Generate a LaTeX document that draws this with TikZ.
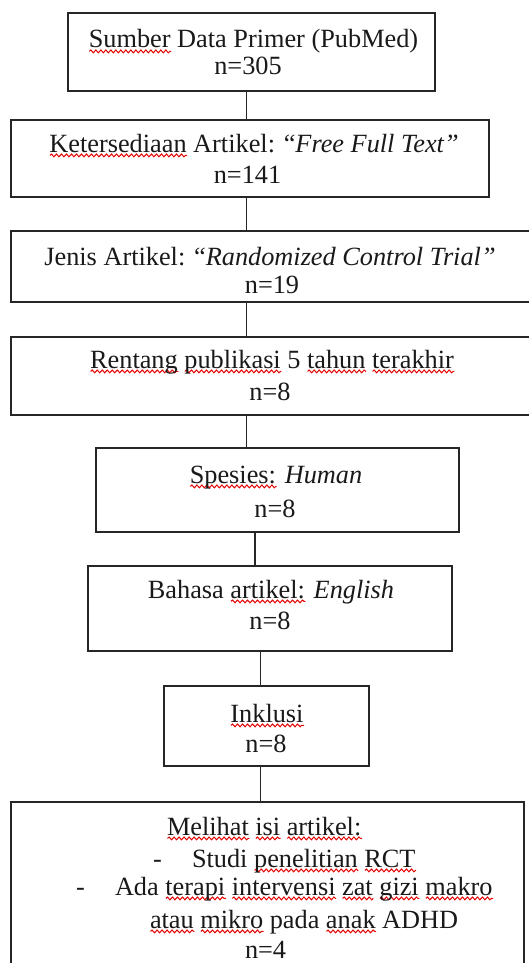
\documentclass[tikz,border=0pt]{standalone}
\usepackage{fontspec}
\setmainfont{Liberation Serif}
\usetikzlibrary{decorations.pathmorphing}
\newlength\sqlen
\newcommand\sq[1]{\settowidth\sqlen{#1}\rlap{\tikz[baseline=0pt,x=1pt,y=1pt]{\draw[red!90!black, line width=1pt, decorate, decoration={snake, amplitude=1.4pt, segment length=5pt}] (0,-3.4) -- (\sqlen,-3.4);}}#1}
\tikzset{
  box/.style={draw=black!85, line width=1.4pt, inner sep=0pt, outer sep=0pt, fill=none},
  txt/.style={inner sep=0pt, outer sep=0pt, font=\fontsize{26.3}{30}\selectfont, text=black!90},
  link/.style={draw=black!85, line width=1.4pt}
}
\begin{document}
\begin{tikzpicture}[x=1pt,y=-1pt]
\useasboundingbox (0,0) rectangle (529,963);
\clip (0,0) rectangle (529,963);
% boxes
\node[box, minimum width=367pt, minimum height=78pt] (b1) at (251.5,52) {};
\node[box, minimum width=478pt, minimum height=77pt] (b2) at (250,158.5) {};
\node[box, minimum width=534pt, minimum height=71pt] (b3) at (278,266.5) {};
\node[box, minimum width=534pt, minimum height=78pt] (b4) at (278,376) {};
\node[box, minimum width=363pt, minimum height=84pt] (b5) at (277.5,490) {};
\node[box, minimum width=364pt, minimum height=85pt] (b6) at (270,608.5) {};
\node[box, minimum width=205pt, minimum height=80pt] (b7) at (266.5,726) {};
\node[box, minimum width=513pt, minimum height=188pt] (b8) at (267.5,896) {};
% connector columns
\coordinate (c1) at (246.5,0);
\coordinate (c2) at (255,0);
\coordinate (c3) at (260.5,0);
\draw[link] (b1.south -| c1) -- (b2.north -| c1);
\draw[link] (b2.south -| c1) -- (b3.north -| c1);
\draw[link] (b3.south -| c1) -- (b4.north -| c1);
\draw[link] (b4.south -| c1) -- (b5.north -| c1);
\draw[link] (b5.south -| c2) -- (b6.north -| c2);
\draw[link] (b6.south -| c3) -- (b7.north -| c3);
\draw[link] (b7.south -| c3) -- (b8.north -| c3);
% texts
\node[txt, anchor=base] (t1a) at (253.5,48) {\sq{Sumber} Data Primer (PubMed)};
\node[txt, anchor=base] (t1b) at (248,75) {n=305};
\node[txt, anchor=base] (t2a) at (254,152) {\sq{Ketersediaan} Artikel: “\textit{Free Full Text”}};
\node[txt, anchor=base] (t2b) at (247.5,183) {n=141};
\node[txt, anchor=base] (t3a) at (270,265) {Jenis Artikel: “\textit{Randomized Control Trial”}};
\node[txt, anchor=base] (t3b) at (272,293) {n=19};
\node[txt, anchor=base] (t4a) at (272,368) {\sq{Rentang} \sq{publikasi} 5 \sq{tahun} \sq{terakhir}};
\node[txt, anchor=base] (t4b) at (270,400) {n=8};
\node[txt, anchor=base] (t5a) at (276,483) {\sq{Spesies:} \textit{Human}};
\node[txt, anchor=base] (t5b) at (275,517) {n=8};
\node[txt, anchor=base] (t6a) at (271,598) {Bahasa \sq{artikel:} \textit{English}};
\node[txt, anchor=base] (t6b) at (270,629) {n=8};
\node[txt, anchor=base] (t7a) at (267,722) {\sq{Inklusi}};
\node[txt, anchor=base] (t7b) at (266,752) {n=8};
\node[txt, anchor=base west] (t8a) at (167,835) {\sq{Melihat} \sq{isi} \sq{artikel:}};
\node[txt, anchor=base west] (t8b) at (153,867) {-};
\node[txt, anchor=base west] (t8c) at (192,867) {Studi \sq{penelitian} \sq{RCT}};
\node[txt, anchor=base west] (t8d) at (76,895) {-};
\node[txt, anchor=base west] (t8e) at (115,895) {Ada \sq{terapi} \sq{intervensi} \sq{zat} \sq{gizi} \sq{makro}};
\node[txt, anchor=base west] (t8f) at (150,928) {\sq{atau} \sq{mikro} pada \sq{anak} ADHD};
\node[txt, anchor=base west] (t8g) at (245,958) {n=4};
\end{tikzpicture}
\end{document}
